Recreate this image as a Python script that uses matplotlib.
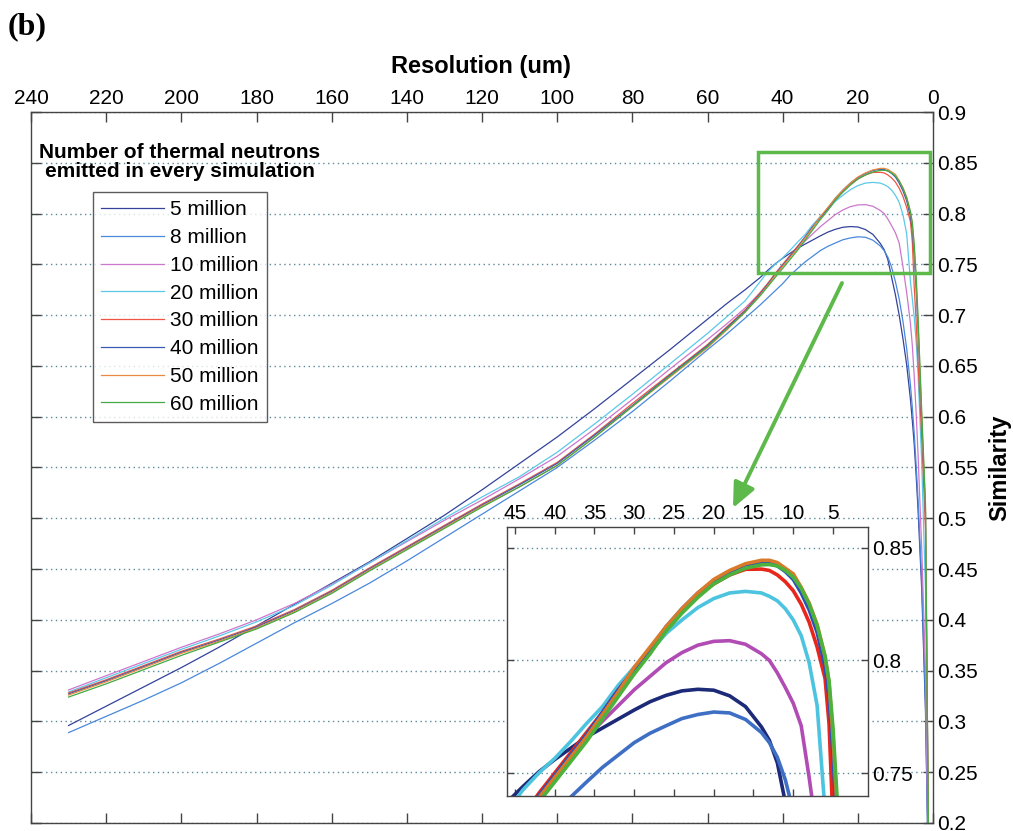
import matplotlib
matplotlib.use('Agg')
import matplotlib.pyplot as plt
from matplotlib.patches import Rectangle, FancyArrowPatch
from matplotlib.ticker import FuncFormatter

# ---------------- data ----------------
resolution_um = [230, 220, 210, 200, 190, 180, 170, 160, 150, 140,
                 130, 120, 110, 100, 90, 80, 70, 60, 55, 50,
                 46, 44, 42, 40, 38, 36, 34, 32, 30, 28,
                 26, 24, 22, 20, 18, 16, 14, 13, 12, 11,
                 10, 9, 8, 7, 6, 5.5, 5, 4.5, 4, 3,
                 2, 1]

sim_5M = [0.296, 0.315, 0.334, 0.353, 0.373, 0.394, 0.415, 0.436, 0.457, 0.480,
          0.503, 0.528, 0.554, 0.580, 0.608, 0.637, 0.666, 0.696, 0.711, 0.725,
          0.737, 0.744, 0.7505, 0.756, 0.761, 0.766, 0.770, 0.774, 0.778, 0.7817,
          0.7845, 0.7865, 0.7872, 0.7868, 0.7843, 0.7795, 0.7705, 0.7645, 0.7545, 0.737,
          0.720, 0.700, 0.677, 0.651, 0.617, 0.596, 0.573, 0.543, 0.510, 0.430,
          0.310, 0.100]

sim_8M = [0.289, 0.305, 0.321, 0.338, 0.357, 0.377, 0.397, 0.416, 0.436, 0.458,
          0.481, 0.504, 0.527, 0.550, 0.577, 0.605, 0.635, 0.666, 0.681, 0.697,
          0.710, 0.717, 0.724, 0.731, 0.7393, 0.746, 0.7525, 0.758, 0.7635, 0.7677,
          0.771, 0.7742, 0.776, 0.7771, 0.7767, 0.7738, 0.768, 0.7635, 0.757, 0.747,
          0.733, 0.716, 0.694, 0.667, 0.631, 0.609, 0.584, 0.553, 0.520, 0.440,
          0.320, 0.100]

sim_10M = [0.331, 0.345, 0.359, 0.373, 0.386, 0.400, 0.416, 0.435, 0.456, 0.477,
           0.498, 0.518, 0.539, 0.561, 0.588, 0.617, 0.647, 0.676, 0.691, 0.707,
           0.722, 0.731, 0.740, 0.749, 0.758, 0.766, 0.773, 0.780, 0.787, 0.793,
           0.799, 0.8035, 0.8068, 0.8085, 0.8088, 0.8072, 0.803, 0.800, 0.7945, 0.788,
           0.781, 0.771, 0.748, 0.722, 0.692, 0.670, 0.640, 0.605, 0.565, 0.470,
           0.350, 0.100]

sim_20M = [0.329, 0.343, 0.357, 0.371, 0.384, 0.398, 0.414, 0.434, 0.456, 0.478,
           0.500, 0.521, 0.541, 0.565, 0.593, 0.622, 0.652, 0.682, 0.698, 0.714,
           0.733, 0.7425, 0.750, 0.7565, 0.764, 0.772, 0.7795, 0.789, 0.797, 0.804,
           0.812, 0.818, 0.8235, 0.8275, 0.830, 0.8307, 0.830, 0.8285, 0.8265, 0.823,
           0.818, 0.811, 0.799, 0.780, 0.733, 0.716, 0.698, 0.675, 0.645, 0.555,
           0.430, 0.100]

sim_30M = [0.328, 0.341, 0.355, 0.369, 0.381, 0.394, 0.410, 0.429, 0.451, 0.472,
           0.493, 0.514, 0.534, 0.555, 0.583, 0.613, 0.642, 0.671, 0.688, 0.705,
           0.722, 0.731, 0.741, 0.750, 0.759, 0.768, 0.777, 0.787, 0.796, 0.805,
           0.814, 0.822, 0.829, 0.834, 0.838, 0.8405, 0.8406, 0.840, 0.838, 0.835,
           0.831, 0.825, 0.817, 0.806, 0.792, 0.772, 0.728, 0.695, 0.655, 0.580,
           0.490, 0.100]

sim_40M = [0.327, 0.340, 0.354, 0.368, 0.380, 0.393, 0.409, 0.428, 0.450, 0.471,
           0.492, 0.513, 0.533, 0.554, 0.582, 0.611, 0.641, 0.670, 0.687, 0.704,
           0.721, 0.730, 0.740, 0.749, 0.758, 0.767, 0.777, 0.787, 0.796, 0.805,
           0.815, 0.823, 0.830, 0.8355, 0.8395, 0.8425, 0.8436, 0.8434, 0.842, 0.8395,
           0.836, 0.830, 0.8225, 0.8125, 0.797, 0.784, 0.758, 0.726, 0.688, 0.595,
           0.505, 0.100]

sim_50M = [0.326, 0.339, 0.353, 0.367, 0.379, 0.392, 0.408, 0.427, 0.449, 0.470,
           0.491, 0.512, 0.531, 0.552, 0.580, 0.610, 0.639, 0.668, 0.685, 0.703,
           0.720, 0.729, 0.739, 0.748, 0.757, 0.766, 0.776, 0.786, 0.797, 0.806,
           0.815, 0.823, 0.830, 0.836, 0.840, 0.843, 0.8445, 0.8445, 0.8435, 0.841,
           0.8385, 0.8325, 0.8255, 0.816, 0.8017, 0.790, 0.766, 0.735, 0.695, 0.600,
           0.510, 0.100]

sim_60M = [0.324, 0.337, 0.351, 0.365, 0.378, 0.391, 0.407, 0.426, 0.448, 0.469,
           0.490, 0.511, 0.531, 0.552, 0.580, 0.610, 0.640, 0.669, 0.686, 0.703,
           0.719, 0.728, 0.737, 0.746, 0.755, 0.764, 0.774, 0.784, 0.794, 0.803,
           0.813, 0.821, 0.828, 0.834, 0.838, 0.841, 0.8425, 0.8426, 0.842, 0.840,
           0.837, 0.832, 0.825, 0.8155, 0.802, 0.791, 0.770, 0.740, 0.700, 0.605,
           0.515, 0.100]

series_labels = ['5 million', '8 million', '10 million', '20 million',
                 '30 million', '40 million', '50 million', '60 million']
series_values = [sim_5M, sim_8M, sim_10M, sim_20M, sim_30M, sim_40M, sim_50M, sim_60M]

main_colors = ['#33439a', '#4a88dc', '#cc77cc', '#5cc8e8',
               '#ee5544', '#3a5cb0', '#e88a44', '#44aa44']
inset_colors = ['#1c2a78', '#3f6fc4', '#b04cb4', '#4cc4e0',
                '#e8261c', '#2e4fb8', '#d97a2a', '#4cb23c']

main_xticks = list(range(0, 241, 20))
main_yticks = [0.2, 0.25, 0.3, 0.35, 0.4, 0.45, 0.5, 0.55, 0.6, 0.65, 0.7, 0.75, 0.8, 0.85, 0.9]
inset_xticks = [45, 40, 35, 30, 25, 20, 15, 10, 5]
inset_yticks = [0.75, 0.8, 0.85]

# ---------------- figure ----------------
W, H = 1013, 831
plt.rcParams['font.family'] = ['Liberation Sans', 'DejaVu Sans']
fig = plt.figure(figsize=(W / 100, H / 100), dpi=100)

def fx(px):
    return px / W

def fy(py):
    return 1 - py / H

grid_color = '#5b8a9a'
spine_color = '#444444'
green = '#5cb94a'
tick_fs = 15

ax = fig.add_axes([fx(31), fy(823), fx(933) - fx(31), fy(112) - fy(823)])
for i, (lab, vals) in enumerate(zip(series_labels, series_values)):
    ax.plot(resolution_um, vals, color=main_colors[i], lw=0.9, label=lab)

ax.set_xlim(240, 0)
ax.set_ylim(0.2, 0.9)
ax.set_xticks(main_xticks)
ax.set_yticks(main_yticks)
ax.yaxis.set_major_formatter(FuncFormatter(lambda v, p: f'{v:g}'))
ax.tick_params(direction='in', top=True, bottom=True, left=True, right=True,
               labeltop=True, labelbottom=False, labelleft=False, labelright=True,
               length=7, width=1, color=spine_color, labelsize=tick_fs, pad=3)
ax.grid(axis='y', color=grid_color, linestyle=(0, (1, 2.5)), lw=1.0)
for s in ax.spines.values():
    s.set_color(spine_color)
    s.set_linewidth(1.0)

# green box marking the zoomed region
ax.add_patch(Rectangle((46.5, 0.7415), 0.8 - 46.5, 0.861 - 0.7415, fill=False,
                       edgecolor=green, lw=2.5, zorder=5))

# titles
fig.text(fx(481), fy(66), 'Resolution (um)', ha='center', va='center',
         fontsize=17, fontweight='bold')
fig.text(fx(1000), fy(468), 'Similarity', ha='center', va='center',
         fontsize=17, fontweight='bold', rotation=90)
fig.text(fx(8), fy(27), '(b)', ha='left', va='center', fontsize=23,
         fontweight='bold', family='Liberation Serif')

# legend
fig.text(fx(180), fy(162), 'Number of thermal neutrons\nemitted in every simulation',
         ha='center', va='center', fontsize=15, fontweight='bold', linespacing=0.95)
handles, labels = ax.get_legend_handles_labels()
leg = fig.legend(handles, labels, loc='upper left',
                 bbox_to_anchor=(fx(93), fy(192)), bbox_transform=fig.transFigure,
                 borderaxespad=0, frameon=True, fancybox=False, fontsize=15,
                 handlelength=3.0, handletextpad=0.3, labelspacing=0.42,
                 borderpad=0.4)
leg.get_frame().set_edgecolor('#333333')
leg.get_frame().set_linewidth(1.0)

# arrow
fig.add_artist(FancyArrowPatch(
    (fx(842), fy(283)), (fx(733), fy(508)), transform=fig.transFigure,
    arrowstyle='-|>,head_length=1.0,head_width=0.45', mutation_scale=15,
    color=green, lw=2.8, shrinkA=0, shrinkB=0))

# inset
axi = fig.add_axes([fx(507), fy(796), fx(868) - fx(507), fy(527) - fy(796)])
for i, vals in enumerate(series_values):
    axi.plot(resolution_um, vals, color=inset_colors[i], lw=2.6)
axi.set_xlim(46, 0.6)
axi.set_ylim(0.7398, 0.8593)
axi.set_xticks(inset_xticks)
axi.set_yticks(inset_yticks)
axi.yaxis.set_major_formatter(FuncFormatter(lambda v, p: f'{v:g}'))
axi.tick_params(direction='in', top=True, bottom=True, left=True, right=True,
                labeltop=True, labelbottom=False, labelleft=False, labelright=True,
                length=5, width=1, color=spine_color, labelsize=tick_fs, pad=3)
axi.grid(axis='y', color=grid_color, linestyle=(0, (1, 2.5)), lw=1.0)
for s in axi.spines.values():
    s.set_color(spine_color)
    s.set_linewidth(1.0)

fig.savefig('out.png', dpi=100)
